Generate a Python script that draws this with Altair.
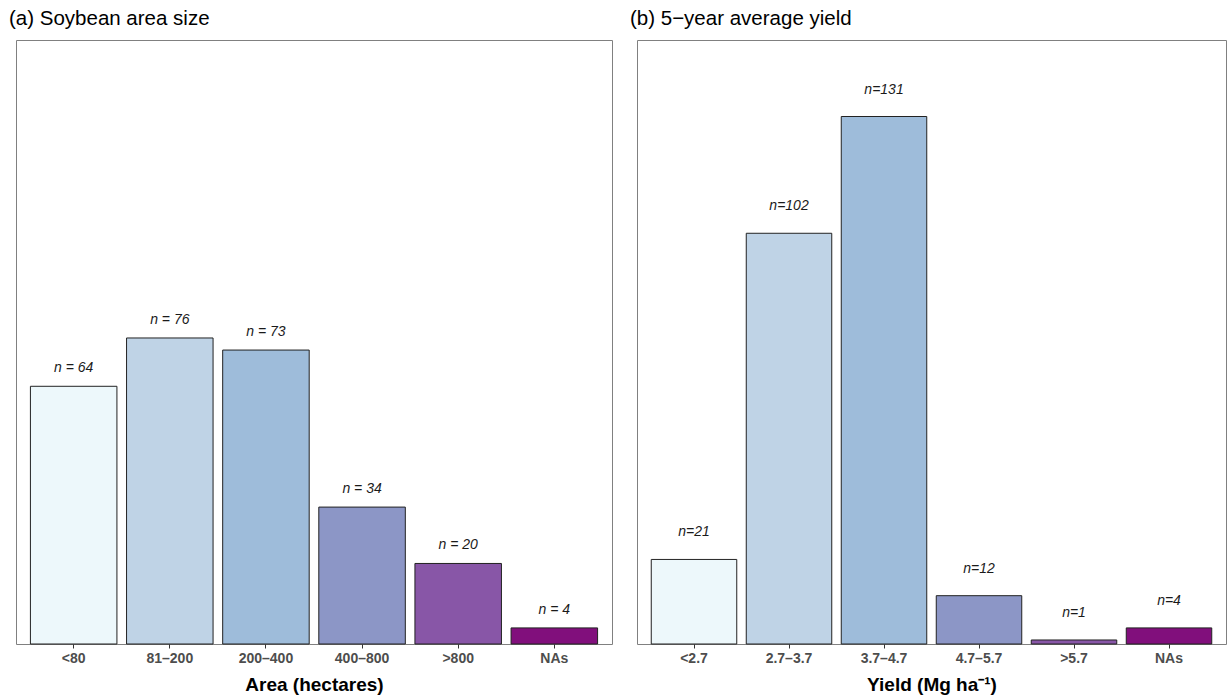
import altair as alt
import pandas as pd

FONT = "Liberation Sans"

area_cats = ["<80", "81–200", "200–400", "400–800", ">800", "NAs"]
area_counts = [64, 76, 73, 34, 20, 4]
area_labels = ["n = 64", "n = 76", "n = 73", "n = 34", "n = 20", "n = 4"]

yield_cats = ["<2.7", "2.7–3.7", "3.7–4.7", "4.7–5.7", ">5.7", "NAs"]
yield_counts = [21, 102, 131, 12, 1, 4]
yield_labels = ["n=21", "n=102", "n=131", "n=12", "n=1", "n=4"]

colors = ["#edf8fb", "#bfd3e6", "#9ebcda", "#8c96c6", "#8856a7", "#810f7c"]

df_a = pd.DataFrame({"cat": area_cats, "n": area_counts, "lab": area_labels, "col": colors})
df_b = pd.DataFrame({"cat": yield_cats, "n": yield_counts, "lab": yield_labels, "col": colors})


def panel(df, cats, title, xtitle, width, dy):
    base = alt.Chart(df)
    x = alt.X(
        "cat:N",
        sort=cats,
        scale=alt.Scale(paddingInner=0.1, paddingOuter=0.15),
        axis=alt.Axis(
            title=xtitle,
            labelAngle=0,
            labelFont=FONT,
            labelFontSize=14,
            labelFontWeight="bold",
            labelColor="#4d4d4d",
            labelPadding=3,
            tickColor="#333333",
            tickSize=4,
            domain=False,
            titleFont=FONT,
            titleFontSize=19,
            titleFontWeight="bold",
            titleColor="#000000",
            titlePadding=10,
        ),
    )
    y = alt.Y("n:Q", scale=alt.Scale(domain=[0, 150], nice=False, zero=True), axis=None)
    bars = base.mark_bar(stroke="#222222", strokeWidth=1).encode(
        x=x, y=y, fill=alt.Fill("col:N", scale=None)
    )
    text = base.mark_text(
        font=FONT, fontSize=14, fontStyle="italic", baseline="bottom", dy=dy, color="#1a1a1a"
    ).encode(x=x, y=y, text="lab:N")
    return (bars + text).properties(
        width=width,
        height=604,
        title=alt.TitleParams(
            title,
            anchor="start",
            frame="group",
            dx=-7,
            offset=11,
            font=FONT,
            fontSize=20.5,
            fontWeight="normal",
            color="#000000",
        ),
    )


left = panel(df_a, area_cats, "(a) Soybean area size", "Area (hectares)", 596, -11)
right = panel(df_b, yield_cats, "(b) 5−year average yield", "Yield (Mg ha⁻¹)", 589, -20)

chart = (
    alt.hconcat(left, right, spacing=16)
    .properties(padding={"left": 8, "top": 8, "right": 0, "bottom": 0})
    .configure(background="white", autosize=alt.AutoSizeParams(type="pad"))
    .configure_view(stroke="#808080", strokeWidth=1)
)

chart.save("out.html", embed_options={"renderer": "svg", "actions": False})
